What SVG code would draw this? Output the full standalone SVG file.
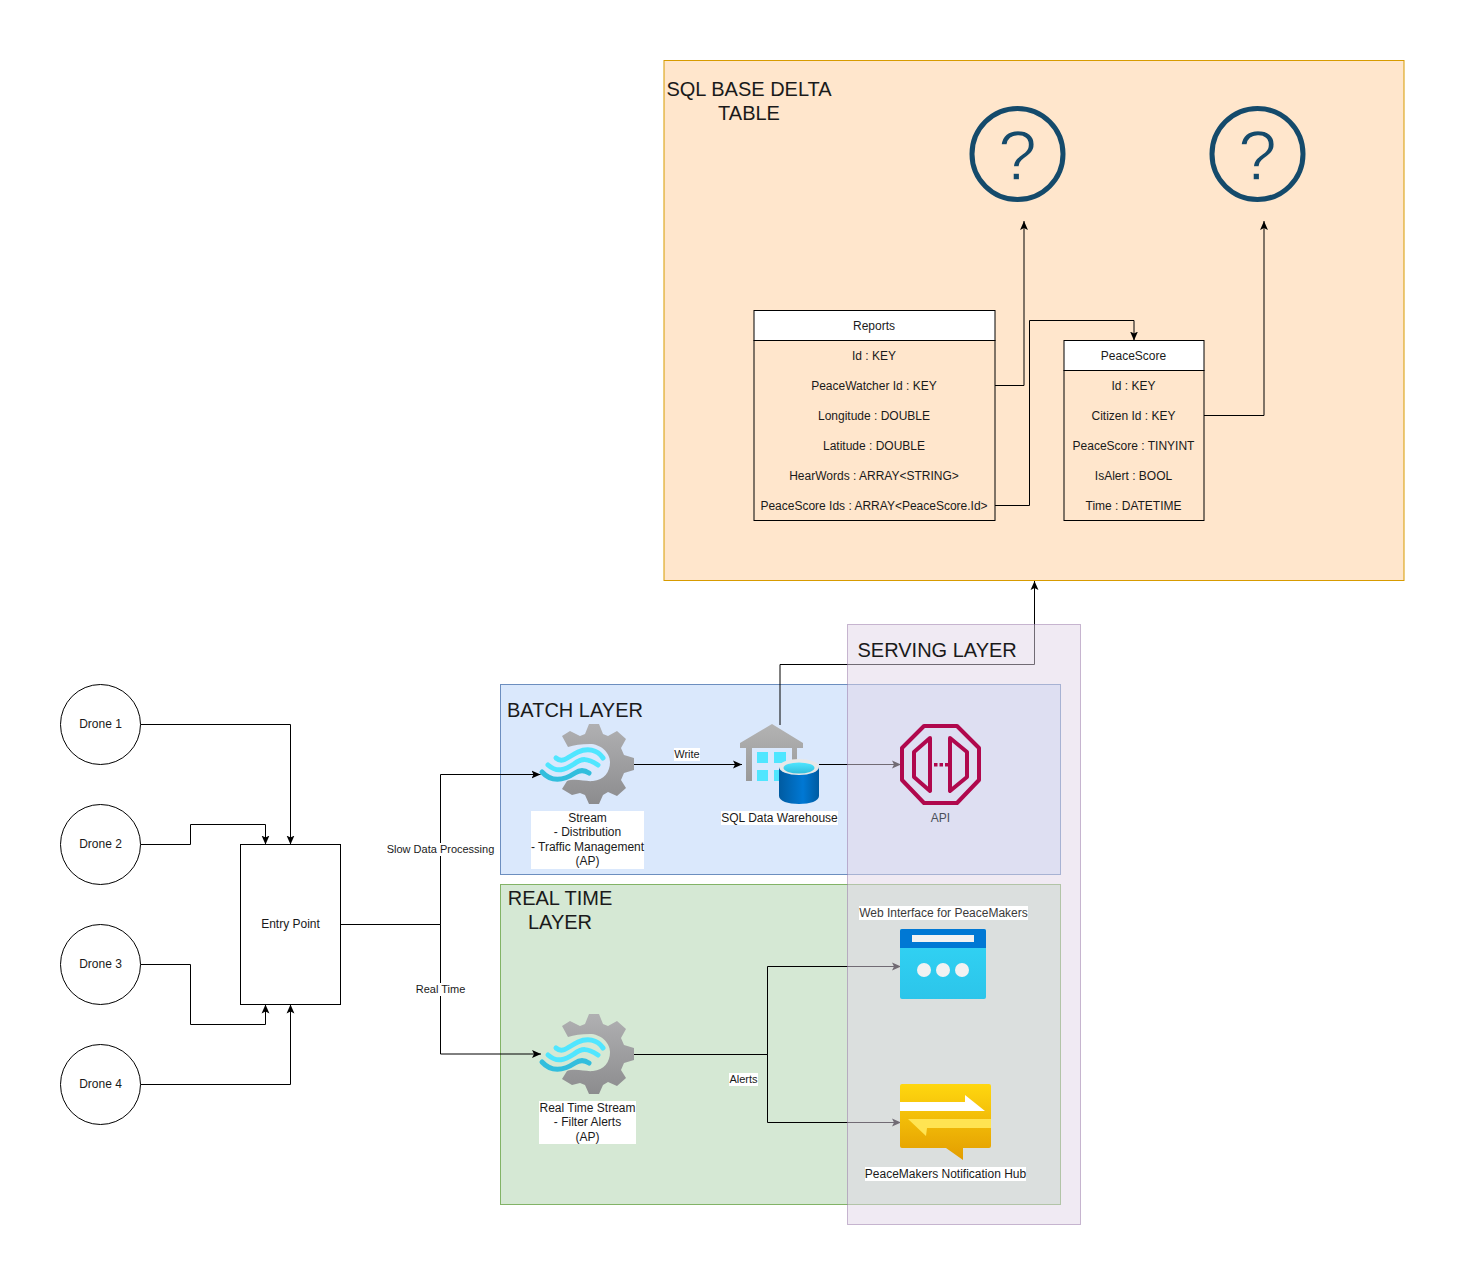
<svg xmlns="http://www.w3.org/2000/svg" width="1465" height="1285" viewBox="0 0 1465 1285">
<style>
text{font-family:"Liberation Sans",Arial,sans-serif;font-size:12px;fill:#1a1a1a;text-anchor:middle}
.title{font-size:20px}
.start{text-anchor:start}
.edge{font-size:11px}
.shape{fill:#fff;stroke:#000;stroke-width:1}
.cell{fill:none;stroke:#000;stroke-width:1}
.conn{fill:none;stroke:#000;stroke-width:1}
.arr{marker-end:url(#arrow)}
.bg{fill:#fff}
.ring{fill:none;stroke:#144a6b;stroke-width:5}
.q{font-size:70px;fill:#144a6b;stroke:#ffe6cc;stroke-width:1.4}
.api{fill:none;stroke:#b0084d;stroke-width:4;stroke-linejoin:round}
</style>
<defs>
<marker id="arrow" markerUnits="userSpaceOnUse" markerWidth="9" markerHeight="9" viewBox="0 0 8 8" refX="8" refY="4" orient="auto"><path d="M0,0.5 L8,4 L0,7.5 L1.8,4Z" fill="#000"/></marker>
<linearGradient id="gGear" x1="0" y1="0" x2="0" y2="1"><stop offset="0" stop-color="#b0b0b2"/><stop offset="1" stop-color="#8c8c8e"/></linearGradient>
<linearGradient id="gHouse" x1="0" y1="0" x2="0" y2="1"><stop offset="0" stop-color="#b3b3b3"/><stop offset="1" stop-color="#999"/></linearGradient>
<linearGradient id="gCyl" x1="0" y1="0" x2="1" y2="0"><stop offset="0" stop-color="#005ba1"/><stop offset=".6" stop-color="#0078d4"/><stop offset="1" stop-color="#005ba1"/></linearGradient>
<linearGradient id="gTop" x1="0" y1="0" x2="0" y2="1"><stop offset="0" stop-color="#50e6ff"/><stop offset="1" stop-color="#32bedd"/></linearGradient>
<linearGradient id="gWeb" x1="0" y1="0" x2="0" y2="1"><stop offset="0" stop-color="#32d4f5"/><stop offset="1" stop-color="#2cc5ea"/></linearGradient>
<linearGradient id="gHub" x1="0" y1="0" x2="0" y2="1"><stop offset="0" stop-color="#ffd70f"/><stop offset="1" stop-color="#e39d00"/></linearGradient>
<g id="gear">
<path fill="url(#gGear)" d="M-5,-40 L5,-40 L9,-30 L14,-28 L23,-33 L32,-25 L27,-16 L30,-9 L40,-6 L40,6 L30,9 L27,16 L32,24 L23,32 L14,28 L9,31 L5,40 L-5,40 L-9,31 L-14,29 L-22,31 L-32,25 L-27,17 C-18,14 -8,18 -1,17 C10,16 16,8 16,-2 C16,-12 6,-20 -4,-20 C-13,-20 -20,-19 -26,-17 L-32,-28 L-24,-33 L-14,-28 L-9,-30Z"/>
<g fill="none" stroke-width="5" stroke-linecap="round">
<path stroke="#50e6ff" d="M-38,-6 C-31,0 -25,-8 -16,-12 C-7,-16 3,-15 9,-6"/>
<path stroke="#50e6ff" d="M-46,1 C-37,9 -29,6 -20,0 C-12,-6 -7,-6 4,1"/>
<path stroke="#32bedd" d="M-52,8 C-43,18 -31,17 -19,9 C-13,5 -8,7 -5,9"/>
</g>
</g>
</defs>

<g id="sql-base-delta-table">
<rect x="664" y="60.5" width="740" height="520" fill="#ffe6cc" stroke="#d79b00"/>
<text class="title" x="749" y="96">SQL BASE DELTA</text>
<text class="title" x="749" y="120">TABLE</text>
</g>
<g id="batch-layer">
<rect x="500.5" y="684.5" width="560" height="190" fill="#dae8fc" stroke="#6c8ebf"/>
<text class="title start" x="507" y="717">BATCH LAYER</text>
</g>
<g id="real-time-layer">
<rect x="500.5" y="884.5" width="560" height="320" fill="#d5e8d4" stroke="#82b366"/>
<text class="title" x="560" y="905">REAL TIME</text>
<text class="title" x="560" y="929">LAYER</text>
</g>

<g id="connectors">
<path class="conn arr" d="M140.5,724.5 H290.5 V844.5"/>
<path class="conn arr" d="M140.5,844.5 H190.5 V824.5 H265.5 V844.5"/>
<path class="conn arr" d="M140.5,964.5 H190.5 V1024.5 H265.5 V1004.5"/>
<path class="conn arr" d="M140.5,1084.5 H290.5 V1004.5"/>
<path class="conn arr" d="M340.5,924.5 H440.5 V774.5 H540.5"/>
<path class="conn arr" d="M340.5,924.5 H440.5 V1054 H541"/>
<path class="conn arr" d="M634,764.5 H742"/>
<path class="conn arr" d="M819,764.5 H901"/>
<path class="conn arr" d="M780,725 V664.5 H1034.5 V581"/>
<path class="conn arr" d="M634,1054.5 H767.5 V966.5 H901"/>
<path class="conn arr" d="M634,1054.5 H767.5 V1122.5 H901"/>
<path class="conn arr" d="M995,385.5 H1024 V221"/>
<path class="conn arr" d="M995,505.5 H1029.5 V320.5 H1134 V340.5"/>
<path class="conn arr" d="M1204,415.5 H1264 V221"/>
</g>

<g id="serving-layer">
<rect x="847.5" y="624.5" width="233" height="600" fill="#e1d5e7" fill-opacity=".5" stroke="#9673a6" stroke-opacity=".5"/>
<text class="title start" x="857.5" y="657">SERVING LAYER</text>
</g>

<g id="edge-labels">
<rect class="bg" x="387" y="843" width="107" height="13"/>
<text class="edge" x="440.5" y="853">Slow Data Processing</text>
<rect class="bg" x="415" y="983" width="51" height="13"/>
<text class="edge" x="440.5" y="993">Real Time</text>
<rect class="bg" x="674" y="748" width="26" height="13"/>
<text class="edge" x="687" y="758">Write</text>
<rect class="bg" x="729" y="1073" width="29" height="13"/>
<text class="edge" x="743.5" y="1083">Alerts</text>
</g>

<g id="drone-1"><circle class="shape" cx="100.5" cy="724.5" r="40"/><text x="100.5" y="728">Drone 1</text></g>
<g id="drone-2"><circle class="shape" cx="100.5" cy="844.5" r="40"/><text x="100.5" y="848">Drone 2</text></g>
<g id="drone-3"><circle class="shape" cx="100.5" cy="964.5" r="40"/><text x="100.5" y="968">Drone 3</text></g>
<g id="drone-4"><circle class="shape" cx="100.5" cy="1084.5" r="40"/><text x="100.5" y="1088">Drone 4</text></g>
<g id="entry-point"><rect class="shape" x="240.5" y="844.5" width="100" height="160"/><text x="290.5" y="928">Entry Point</text></g>

<g id="stream">
<use href="#gear" x="594" y="764"/>
<rect class="bg" x="531" y="811" width="113" height="58"/>
<text x="587.5" y="822">Stream</text>
<text x="587.5" y="836">- Distribution</text>
<text x="587.5" y="851">- Traffic Management</text>
<text x="587.5" y="865">(AP)</text>
</g>

<g id="sql-data-warehouse">
<path fill="url(#gHouse)" d="M772,724 L803,743 V748 H797 V781 H792 V748 H752 V781 H746 V748 H740 V743Z"/>
<g fill="#50e6ff">
<rect x="757" y="752" width="11" height="11"/><rect x="774" y="752" width="12" height="11"/>
<rect x="757" y="770" width="11" height="11"/><rect x="774" y="770" width="12" height="11"/>
</g>
<path fill="url(#gCyl)" d="M779,767 V796 C779,801 788,804 799,804 C810,804 819,801 819,796 V767Z"/>
<ellipse cx="799" cy="767" rx="20" ry="8" fill="#e8e8e8"/>
<ellipse cx="799" cy="768" rx="15.5" ry="5.5" fill="url(#gTop)"/>
<rect class="bg" x="721" y="811" width="117" height="14"/>
<text x="779.5" y="822">SQL Data Warehouse</text>
</g>

<g id="api">
<path class="api" d="M924,726 H957 L979,748 V780 L957,803 H924 L902,780 V748Z"/>
<path class="api" d="M930,738 L914,752 V777 L930,791Z"/>
<path class="api" d="M950,738 L967,752 V777 L950,791Z"/>
<g fill="#b0084d"><rect x="934" y="763" width="3.5" height="3.5"/><rect x="939.5" y="763" width="3.5" height="3.5"/><rect x="945" y="763" width="3.5" height="3.5"/></g>
<text x="940.5" y="822" style="fill:#4a4f5a">API</text>
</g>

<g id="web-interface">
<rect x="900" y="929" width="86" height="70" rx="2" fill="url(#gWeb)"/>
<path d="M902,929 H984 Q986,929 986,931 V948 H900 V931 Q900,929 902,929Z" fill="#0078d4"/>
<rect x="912" y="935" width="62" height="7" fill="#f2f2f2"/>
<g fill="#f2f2f2"><circle cx="924" cy="970" r="7"/><circle cx="943" cy="970" r="7"/><circle cx="962" cy="970" r="7"/></g>
<rect class="bg" x="859" y="906" width="169" height="14"/>
<text x="943.5" y="917" style="fill:#3a3a3a">Web Interface for PeaceMakers</text>
</g>

<g id="notification-hub">
<path fill="url(#gHub)" d="M902,1084 H989 Q991,1084 991,1086 V1146 Q991,1148 989,1148 H963 V1160 L946,1148 H902 Q900,1148 900,1146 V1086 Q900,1084 902,1084Z"/>
<path fill="#fff" d="M900,1102 H965 V1095 L985,1111 H900Z"/>
<path fill="#ffe452" d="M991,1119 H908 L926,1136 L927,1128 H991Z"/>
<rect class="bg" x="865" y="1167" width="161" height="14"/>
<text x="945.5" y="1178">PeaceMakers Notification Hub</text>
</g>

<g id="real-time-stream">
<use href="#gear" x="594" y="1054"/>
<rect class="bg" x="539" y="1101" width="97" height="43"/>
<text x="587.5" y="1112">Real Time Stream</text>
<text x="587.5" y="1126">- Filter Alerts</text>
<text x="587.5" y="1141">(AP)</text>
</g>

<g id="unknown-1"><circle class="ring" cx="1017.5" cy="154" r="45.5"/><text class="q" x="1017.5" y="179.5">?</text></g>
<g id="unknown-2"><circle class="ring" cx="1257.5" cy="154" r="45.5"/><text class="q" x="1257.5" y="179.5">?</text></g>

<g id="reports">
<rect class="shape" x="754" y="310.5" width="241" height="30"/>
<rect class="cell" x="754" y="340.5" width="241" height="180"/>
<text x="874" y="330">Reports</text>
<text x="874" y="360">Id : KEY</text>
<text x="874" y="390">PeaceWatcher Id : KEY</text>
<text x="874" y="420">Longitude : DOUBLE</text>
<text x="874" y="450">Latitude : DOUBLE</text>
<text x="874" y="480">HearWords : ARRAY&lt;STRING&gt;</text>
<text x="874" y="510">PeaceScore Ids : ARRAY&lt;PeaceScore.Id&gt;</text>
</g>

<g id="peacescore">
<rect class="shape" x="1064" y="340.5" width="140" height="30"/>
<rect class="cell" x="1064" y="370.5" width="140" height="150"/>
<text x="1133.5" y="360">PeaceScore</text>
<text x="1133.5" y="390">Id : KEY</text>
<text x="1133.5" y="420">Citizen Id : KEY</text>
<text x="1133.5" y="450">PeaceScore : TINYINT</text>
<text x="1133.5" y="480">IsAlert : BOOL</text>
<text x="1133.5" y="510">Time : DATETIME</text>
</g>
</svg>
